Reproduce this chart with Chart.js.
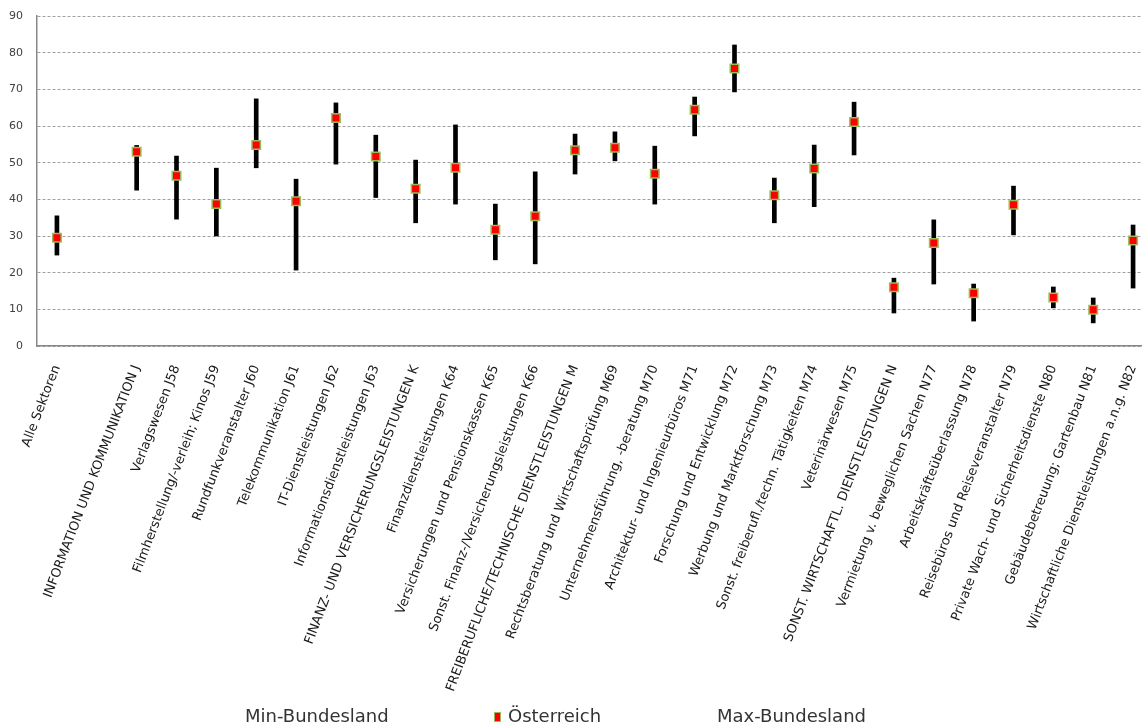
<!DOCTYPE html>
<html>
<head>
<meta charset="utf-8">
<script src="https://cdn.jsdelivr.net/npm/chart.js@4/dist/chart.umd.min.js"></script>
<style>
  body { margin: 0; background: #fff; }
  #wrap { position: relative; width: 1142px; height: 727px; overflow: hidden; font-family: "DejaVu Sans", sans-serif; }
  #chart { position: absolute; left: 0; top: 0; }
  .lg { position: absolute; top: 705px; font-size: 18px; color: #333; white-space: nowrap; line-height: 22px; }
  .mk { position: absolute; top: 712px; left: 494px; width: 5px; height: 8px; background: #ff0000; border: 1px solid #9bbb59; }
</style>
</head>
<body>
<div id="wrap">
  <canvas id="chart" width="1153" height="727"></canvas>
  <span class="lg" style="left:245px">Min-Bundesland</span>
  <span class="mk"></span>
  <span class="lg" style="left:508px">Österreich</span>
  <span class="lg" style="left:717px">Max-Bundesland</span>
</div>
<script>
// Sektoren (leere Kategorie = Abstand nach "Alle Sektoren")
var sectors = [
  'Alle Sektoren', '',
  'INFORMATION UND KOMMUNIKATION J', 'Verlagswesen J58', 'Filmherstellung/-verleih; Kinos J59',
  'Rundfunkveranstalter J60', 'Telekommunikation J61', 'IT-Dienstleistungen J62',
  'Informationsdienstleistungen J63', 'FINANZ- UND VERSICHERUNGSLEISTUNGEN K',
  'Finanzdienstleistungen K64', 'Versicherungen und Pensionskassen K65',
  'Sonst. Finanz-/Versicherungsleistungen K66', 'FREIBERUFLICHE/TECHNISCHE DIENSTLEISTUNGEN M',
  'Rechtsberatung und Wirtschaftsprüfung M69', 'Unternehmensführung, -beratung M70',
  'Architektur- und Ingenieurbüros M71', 'Forschung und Entwicklung M72',
  'Werbung und Marktforschung M73', 'Sonst. freiberufl./techn. Tätigkeiten M74',
  'Veterinärwesen M75', 'SONST. WIRTSCHAFTL. DIENSTLEISTUNGEN N',
  'Vermietung v. beweglichen Sachen N77', 'Arbeitskräfteüberlassung N78',
  'Reisebüros und Reiseveranstalter N79', 'Private Wach- und Sicherheitsdienste N80',
  'Gebäudebetreuung; Gartenbau N81', 'Wirtschaftliche Dienstleistungen a.n.g. N82'
];

var minBL = [24.8, null, 42.5, 34.6, 30.0, 48.6, 20.7, 49.6, 40.5, 33.6, 38.7, 23.5, 22.4, 46.9,
             50.5, 38.7, 57.3, 69.3, 33.6, 38.0, 52.1, 9.0, 16.9, 6.8, 30.3, 10.4, 6.3, 15.8];
var oesterreich = [29.5, null, 53.0, 46.4, 38.7, 54.8, 39.5, 62.2, 51.7, 42.9, 48.6, 31.7, 35.4, 53.4,
             54.1, 47.0, 64.4, 75.7, 41.1, 48.4, 61.1, 16.0, 28.1, 14.4, 38.5, 13.2, 9.9, 28.8];
var maxBL = [35.5, null, 54.7, 51.8, 48.5, 67.4, 45.5, 66.3, 57.5, 50.7, 60.3, 38.7, 47.5, 57.8,
             58.4, 54.5, 67.9, 82.1, 45.8, 54.8, 66.5, 18.5, 34.4, 16.9, 43.6, 16.1, 13.1, 33.0];

var yTicks = [0, 10, 20, 30, 40, 50, 60, 70, 80, 90];

var ranges = minBL.map(function(v, i) {
  return v == null ? null : [v, maxBL[i]];
});

var ctx = document.getElementById('chart').getContext('2d');
var myChart = new Chart(ctx, {
  type: 'bar',
  data: {
    labels: sectors,
    datasets: [{
        type: 'line',
        label: 'Österreich',
        data: oesterreich,
        showLine: false,
        pointStyle: 'rect',
        pointRadius: 6,
        backgroundColor: '#ff0000',
        borderColor: '#9bbb59',
        borderWidth: 1.5,
        order: 1
      }, {
        type: 'line',
        label: 'Min-Bundesland',
        data: minBL,
        showLine: false,
        pointRadius: 0,
        order: 3
      }, {
        type: 'line',
        label: 'Max-Bundesland',
        data: maxBL,
        showLine: false,
        pointRadius: 0,
        order: 3
      }, {
        label: 'Spanne',
        data: ranges,
        backgroundColor: '#000000',
        barThickness: 4,
        order: 5
      }
    ]
  },
  options: {
    responsive: false,
    animation: false,
    layout: { autoPadding: false, padding: { top: 16, left: 0, right: 0, bottom: 0 } },
    plugins: {
      legend: { display: false },
      tooltip: { enabled: false }
    },
    scales: {
      x: {
        grid: { display: false },
        border: { color: '#878787', width: 1.5 },
        ticks: {
          autoSkip: false,
          minRotation: 69,
          maxRotation: 69,
          padding: 9,
          color: '#1a1a1a',
          font: { family: 'DejaVu Sans', size: 13 }
        },
        afterFit: function(axis) {
          axis.height = 381;
          axis.paddingLeft = 0;
          axis.paddingRight = 0;
        }
      },
      y: {
        min: 0,
        max: 90,
        afterBuildTicks: function(axis) {
          axis.ticks = yTicks.map(function(v) { return { value: v }; });
        },
        grid: {
          color: '#a0a0a0',
          lineWidth: 1,
          drawTicks: false
        },
        border: { color: '#878787', width: 1.5, dash: [3, 2] },
        ticks: {
          padding: 14,
          color: '#404040',
          font: { family: 'DejaVu Sans', size: 11 }
        },
        afterFit: function(axis) {
          axis.width = 37;
          axis.paddingTop = 0;
          axis.paddingBottom = 0;
        }
      }
    }
  }
});
</script>
</body>
</html>
